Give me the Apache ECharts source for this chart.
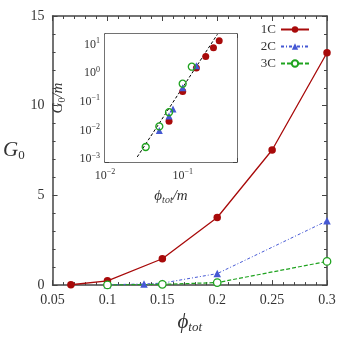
<!DOCTYPE html>
<html><head><meta charset="utf-8">
<script src="https://cdn.jsdelivr.net/npm/echarts@6/dist/echarts.min.js"></script>
<style>html,body{margin:0;padding:0;background:#fff}#c{width:349px;height:339px}</style>
</head><body><div id="c"></div>
<script>
// Main panel data: [phi_tot, G0]
const phi1C = [0.0667, 0.1, 0.15, 0.2, 0.25, 0.3];
const g1C   = [0.02, 0.24, 1.47, 3.77, 7.53, 12.95];
const phi2C = [0.1, 0.1333, 0.15, 0.2, 0.3];
const g2C   = [0.02, 0.064, 0.11, 0.64, 3.58];
const phi3C = [0.1, 0.15, 0.2, 0.3];
const g3C   = [0.008, 0.042, 0.14, 1.32];
// Inset data: [phi_tot/m, G0/m]
const ix1C = [0.0667, 0.1, 0.15, 0.198, 0.249, 0.295];
const iy1C = [0.021, 0.23, 1.5, 3.76, 7.6, 13.5];
const ix2C = [0.05, 0.0667, 0.075, 0.1, 0.15];
const iy2C = [0.01, 0.032, 0.056, 0.31, 1.8];
const ix3C = [0.0334, 0.05, 0.0667, 0.1, 0.131];
const iy3C = [0.00266, 0.0139, 0.0434, 0.427, 1.67];
const fitX = [0.026, 0.28];
const fitY = [0.0012, 22.5];
const xTicks = [0.05, 0.1, 0.15, 0.2, 0.25, 0.3];
const yTicks = [0, 5, 10, 15];

const zip = (a, b) => a.map((v, i) => [v, b[i]]);
const FONT = 'Liberation Serif';
const TXT = '#333';
const RED = '#a80a0a', BLUE = '#4558d4', GREEN = '#1fa31f';

function supLabel(v) {
  const n = Math.round(Math.log10(v));
  return '10{s|' + (n < 0 ? '\u2212' + (-n) : n) + '}';
}
const supRich = { s: { fontSize: 8, fontFamily: FONT, color: TXT, padding: [0, 0, 7, 0] } };

function ax(extra, tickLen, minorSplit) {
  return Object.assign({
    axisLine: { show: true, onZero: false, lineStyle: { color: '#444', width: 1.5 } },
    axisTick: { show: true, inside: true, length: tickLen, lineStyle: { color: '#444', width: 1 } },
    minorTick: { show: true, splitNumber: minorSplit, length: Math.round(tickLen * 0.55), lineStyle: { color: '#444', width: 1 } },
    splitLine: { show: false },
  }, extra);
}

const chart = echarts.init(document.getElementById('c'), null, { renderer: 'canvas' });
chart.setOption({
  animation: false,
  backgroundColor: '#fff',
  grid: [
    { left: 44, top: 16, width: 283, height: 281 },
    { left: 105, top: 34, width: 132, height: 128, show: true, backgroundColor: '#fff', borderWidth: 0, z: 5 }
  ],
  legend: {
    data: ['1C', '2C', '3C'],
    right: 34, top: 18, orient: 'vertical', align: 'right',
    itemWidth: 28, itemHeight: 8, itemGap: 4,
    textStyle: { fontFamily: FONT, fontSize: 13, color: TXT },
  },
  xAxis: [
    ax({
      gridIndex: 0, type: 'value', position: 'bottom', min: 0.05, max: 0.3, interval: 0.05,
      axisLabel: { fontFamily: FONT, fontSize: 14, color: TXT, margin: 8,
        formatter: v => { const t = xTicks.find(x => Math.abs(x - v) < 1e-9); return t === undefined ? '' : String(t); } },
      name: '{i|\u03d5}{s|tot}', nameLocation: 'middle', nameGap: 24,
      nameTextStyle: { rich: {
        i: { fontFamily: FONT, fontStyle: 'italic', fontSize: 21, color: TXT },
        s: { fontFamily: FONT, fontStyle: 'italic', fontSize: 13, color: TXT, padding: [10, 0, 0, 0] } } },
    }, 5, 5),
    ax({ gridIndex: 0, type: 'value', position: 'top', min: 0.05, max: 0.3, interval: 0.05,
      axisLabel: { show: false } }, 5, 5),
    ax({
      gridIndex: 1, type: 'log', position: 'bottom', min: 0.01, max: 0.5,
      axisLabel: { fontFamily: FONT, fontSize: 12, color: TXT, margin: 6, showMaxLabel: false,
        formatter: supLabel, rich: supRich },
      name: '{i|\u03d5}{s|tot}{i|/m}', nameLocation: 'middle', nameGap: 25,
      nameTextStyle: { rich: {
        i: { fontFamily: FONT, fontStyle: 'italic', fontSize: 15, color: TXT },
        s: { fontFamily: FONT, fontStyle: 'italic', fontSize: 10, color: TXT, padding: [8, 0, 0, 0] } } },
    }, 4, 9),
    ax({ gridIndex: 1, type: 'log', position: 'top', min: 0.01, max: 0.5,
      axisLabel: { show: false } }, 4, 9),
  ],
  yAxis: [
    ax({
      gridIndex: 0, type: 'value', position: 'left', min: 0, max: 15, interval: 5,
      axisLabel: { fontFamily: FONT, fontSize: 14, color: TXT, margin: 8 },
      name: '{i|G}{s|0}', nameLocation: 'middle', nameGap: 20, nameRotate: 0,
      nameTextStyle: { rich: {
        i: { fontFamily: FONT, fontStyle: 'italic', fontSize: 21, color: TXT },
        s: { fontFamily: FONT, fontSize: 13, color: TXT, padding: [10, 0, 0, 0] } } },
    }, 5, 5),
    ax({ gridIndex: 0, type: 'value', position: 'right', min: 0, max: 15, interval: 5,
      axisLabel: { show: false } }, 5, 5),
    ax({
      gridIndex: 1, type: 'log', position: 'left', min: 0.0008, max: 23,
      axisLabel: { fontFamily: FONT, fontSize: 12, color: TXT, margin: 5, showMaxLabel: false, showMinLabel: false,
        formatter: supLabel, rich: supRich },
      name: '{i|G}{s|0}{i|/m}', nameLocation: 'middle', nameGap: 38, nameRotate: 90,
      nameTextStyle: { rich: {
        i: { fontFamily: FONT, fontStyle: 'italic', fontSize: 15, color: TXT },
        s: { fontFamily: FONT, fontSize: 10, color: TXT, padding: [8, 0, 0, 0] } } },
    }, 4, 9),
    ax({ gridIndex: 1, type: 'log', position: 'right', min: 0.0008, max: 23,
      axisLabel: { show: false } }, 4, 9),
  ],
  series: [
    { name: '1C', type: 'line', xAxisIndex: 0, yAxisIndex: 0, data: zip(phi1C, g1C),
      symbol: 'circle', symbolSize: 7.5, itemStyle: { color: RED },
      lineStyle: { color: RED, width: 1.3 } },
    { name: '2C', type: 'line', xAxisIndex: 0, yAxisIndex: 0, data: zip(phi2C, g2C),
      symbol: 'triangle', symbolSize: 7.5, itemStyle: { color: BLUE },
      lineStyle: { color: BLUE, width: 1, type: [3, 2, 1, 2] } },
    { name: '3C', type: 'line', xAxisIndex: 0, yAxisIndex: 0, data: zip(phi3C, g3C),
      symbol: 'circle', symbolSize: 7.5, showAllSymbol: true,
      itemStyle: { color: '#fff', borderColor: GREEN, borderWidth: 1.3 },
      lineStyle: { color: GREEN, width: 1.2, type: [4, 2] } },
    { name: 'fit', type: 'line', xAxisIndex: 2, yAxisIndex: 2, data: zip(fitX, fitY),
      symbol: 'none', clip: true, lineStyle: { color: '#000', width: 1, type: [3, 2] }, z: 6 },
    { name: 'i1C', type: 'scatter', xAxisIndex: 2, yAxisIndex: 2, data: zip(ix1C, iy1C),
      symbol: 'circle', symbolSize: 7, itemStyle: { color: RED, opacity: 1 }, z: 7 },
    { name: 'i2C', type: 'scatter', xAxisIndex: 2, yAxisIndex: 2, data: zip(ix2C, iy2C),
      symbol: 'triangle', symbolSize: 7, itemStyle: { color: BLUE, opacity: 1 }, z: 7 },
    { name: 'i3C', type: 'scatter', xAxisIndex: 2, yAxisIndex: 2, data: zip(ix3C, iy3C),
      symbol: 'circle', symbolSize: 7,
      itemStyle: { color: 'rgba(255,255,255,0)', borderColor: GREEN, borderWidth: 1.3, opacity: 1 }, z: 8 },
  ]
});
</script></body></html>
